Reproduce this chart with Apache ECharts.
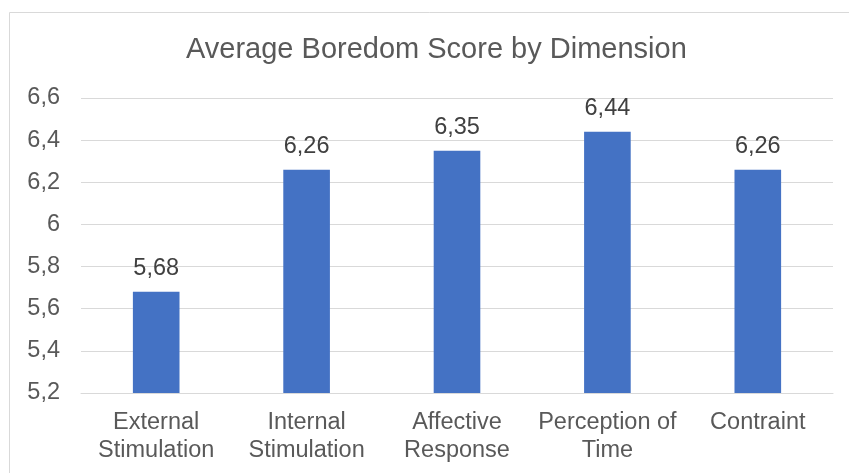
<!DOCTYPE html>
<html>
<head>
<meta charset="utf-8">
<script src="https://cdn.jsdelivr.net/npm/echarts@6/dist/echarts.min.js"></script>
<style>
html,body{margin:0;padding:0;background:#fff;}
#chart{width:849px;height:473px;}
</style>
</head>
<body>
<div id="chart"></div>
<script>
const categories = ['External\nStimulation', 'Internal\nStimulation', 'Affective\nResponse', 'Perception of\nTime', 'Contraint'];
const scores = [5.68, 6.26, 6.35, 6.44, 6.26];
const yTicks = [5.2, 5.4, 5.6, 5.8, 6, 6.2, 6.4, 6.6];
const titleText = 'Average Boredom Score by Dimension';

const fmt = v => String(+v.toFixed(2)).replace('.', ',');
const chart = echarts.init(document.getElementById('chart'));
chart.setOption({
  backgroundColor: '#fff',
  animation: false,
  title: {
    text: titleText,
    left: 181,
    top: 30,
    textStyle: {fontFamily: 'Liberation Sans', fontSize: 29, fontWeight: 'normal', color: '#595959'}
  },
  graphic: [{
    type: 'rect',
    shape: {x: 9.5, y: 12.5, width: 900, height: 500},
    style: {fill: null, stroke: '#d9d9d9', lineWidth: 1},
    silent: true
  }],
  grid: {left: 81, right: 16, top: 98, bottom: 80, containLabel: false},
  xAxis: {
    type: 'category',
    data: categories,
    axisLine: {show: true, lineStyle: {color: '#d9d9d9', width: 1}},
    axisTick: {show: false},
    axisLabel: {fontFamily: 'Liberation Sans', fontSize: 23.5, color: '#595959', margin: 16, lineHeight: 27.5, interval: 0}
  },
  yAxis: {
    type: 'value',
    min: yTicks[0],
    max: yTicks[yTicks.length - 1],
    interval: 0.2,
    axisLine: {show: false},
    axisTick: {show: false},
    splitLine: {lineStyle: {color: '#d9d9d9', width: 1}},
    axisLabel: {fontFamily: 'Liberation Sans', fontSize: 23.5, color: '#595959', margin: 21, formatter: fmt}
  },
  series: [{
    type: 'bar',
    data: scores,
    barWidth: '31%',
    itemStyle: {color: '#4472C4'},
    label: {
      show: true,
      position: 'top',
      distance: 11,
      fontFamily: 'Liberation Sans',
      fontSize: 23.5,
      color: '#404040',
      formatter: p => fmt(p.value)
    }
  }]
});
</script>
</body>
</html>
